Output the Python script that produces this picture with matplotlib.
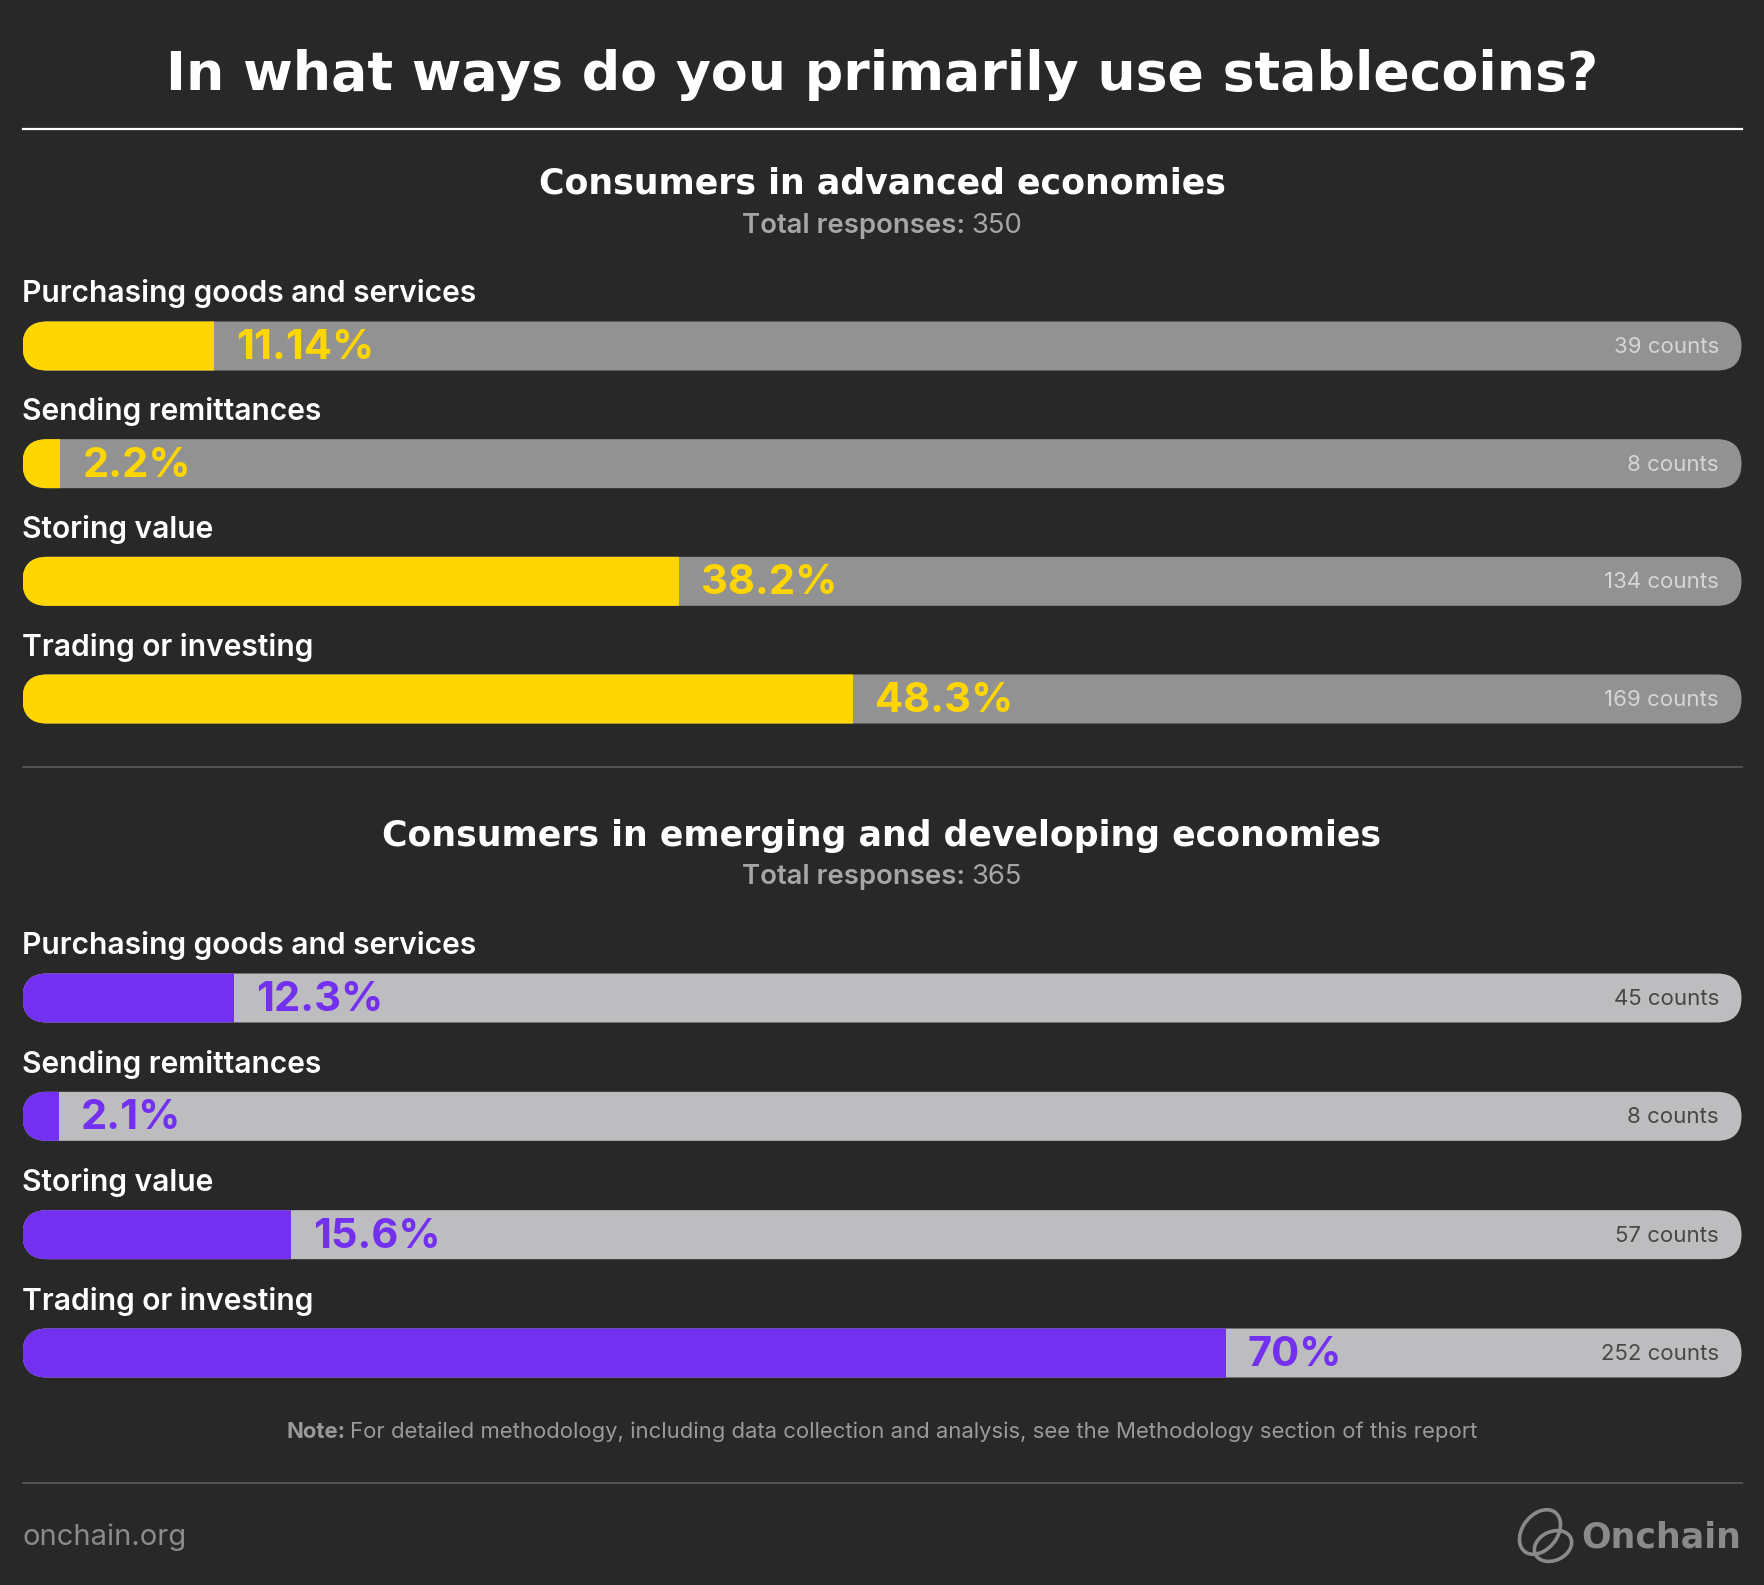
import matplotlib
matplotlib.use("Agg")
import matplotlib.pyplot as plt
from matplotlib.patches import FancyBboxPatch, Rectangle, Ellipse
from matplotlib.lines import Line2D

W, H = 1764, 1585
BG = "#282828"
FONT = ["Inter", "DejaVu Sans"]
TITLE_FONT = ["DejaVu Sans"]

categories = ["Purchasing goods and services", "Sending remittances",
              "Storing value", "Trading or investing"]
adv_pct = [11.14, 2.2, 38.2, 48.3]
adv_counts = [39, 8, 134, 169]
adv_total = 350
emg_pct = [12.3, 2.1, 15.6, 70]
emg_counts = [45, 8, 57, 252]
emg_total = 365

plt.rcParams["font.family"] = FONT
fig = plt.figure(figsize=(W / 100, H / 100), dpi=100, facecolor=BG)


def fx(x):
    return x / W


def fy(y):
    return 1 - y / H


def hline(y, x0, x1, color, lw):
    fig.add_artist(Line2D([fx(x0), fx(x1)], [fy(y), fy(y)], color=color, lw=lw,
                          transform=fig.transFigure))


def rich_center(x, y, parts, size, color):
    """Centered line made of (text, weight) pieces."""
    r = fig.canvas.get_renderer()
    texts, widths = [], []
    for s, wt in parts:
        t = fig.text(0, fy(y), s, fontsize=size, color=color, weight=wt,
                     va="center", ha="left")
        texts.append(t)
        widths.append(t.get_window_extent(r).width)
    space = size * 0.28
    total = sum(widths) + space * (len(parts) - 1)
    cur = x - total / 2
    for t, w in zip(texts, widths):
        t.set_x(fx(cur))
        cur += w + space


def section(top_c, bot_c, pct, counts, fill_col, track_col, cnt_col):
    n = len(categories)
    sp = (bot_c - top_c) / (n - 1)
    y0, y1 = top_c - sp / 2, bot_c + sp / 2
    x0, x1 = 22.5, 1741.5
    ax = fig.add_axes([fx(x0), fy(y1), (x1 - x0) / W, (y1 - y0) / H])
    ax.set_xlim(0, 100)
    ax.set_ylim(n - 0.5, -0.5)
    ax.axis("off")
    pxu = (x1 - x0) / 100
    h = 49 / sp
    r = 24.4 / pxu
    asp = pxu / sp
    for i, (cat, v, c) in enumerate(zip(categories, pct, counts)):
        track = FancyBboxPatch((0, i - h / 2), 100, h,
                               boxstyle=f"round,pad=0,rounding_size={r}",
                               mutation_aspect=asp, fc=track_col, ec="none")
        ax.add_patch(track)
        fill = FancyBboxPatch((0, i - h / 2), 100, h,
                              boxstyle=f"round,pad=0,rounding_size={r}",
                              mutation_aspect=asp, fc=fill_col, ec="none")
        ax.add_patch(fill)
        fill.set_clip_path(Rectangle((0, i - h), v, 2 * h, transform=ax.transData))
        ax.text(0, i - 52 / sp, cat, fontsize=21.6, weight="semibold", color="white",
                va="center", ha="left")
        ax.text(v + 22 / pxu, i + 2 / sp, f"{v:g}%", fontsize=30, weight="bold",
                color=fill_col, va="center", ha="left")
        ax.text(100 - 22.5 / pxu, i + 1 / sp, f"{c} counts", fontsize=16,
                color=cnt_col, va="center", ha="right")
    return ax


# title
fig.text(0.5, fy(75), "In what ways do you primarily use stablecoins?",
         fontsize=38.7, weight="bold", color="white", ha="center", va="center",
         family=TITLE_FONT)
hline(129, 22.5, 1741.5, "white", 1.6)

# section 1
fig.text(0.5, fy(183), "Consumers in advanced economies", fontsize=25,
         weight="bold", color="white", ha="center", va="center", family=TITLE_FONT)
rich_center(W / 2, 226, [("Total responses:", "semibold"), (str(adv_total), "normal")],
            19.8, "#A6A6A6")
section(346, 699, adv_pct, adv_counts, "#FFD600", "#929292", "#D6D6D6")

hline(767, 22.5, 1741.5, "#5A5A5A", 1.2)

# section 2
fig.text(0.5, fy(836), "Consumers in emerging and developing economies", fontsize=25,
         weight="bold", color="white", ha="center", va="center", family=TITLE_FONT)
rich_center(W / 2, 877, [("Total responses:", "semibold"), (str(emg_total), "normal")],
            19.8, "#A6A6A6")
section(998, 1353, emg_pct, emg_counts, "#7330F0", "#BDBDBF", "#474747")

# note and footer
rich_center(W / 2, 1432, [("Note:", "bold"),
                          ("For detailed methodology, including data collection and "
                           "analysis, see the Methodology section of this report", "normal")],
            15.9, "#9A9A9A")
hline(1483, 22.5, 1741.5, "#5A5A5A", 1.2)
fig.text(fx(22.5), fy(1537), "onchain.org", fontsize=21, color="#8A8A8A",
         ha="left", va="center")
fig.text(fx(1741.5), fy(1537), "Onchain", fontsize=25, weight="bold", color="#8A8A8A",
         ha="right", va="center", family=TITLE_FONT)
fig.add_artist(Ellipse((fx(1540), fy(1532)), 36 / W, 48 / H, angle=-30, fill=False,
                       ec="#8A8A8A", lw=2.6, transform=fig.transFigure))
fig.add_artist(Ellipse((fx(1553), fy(1546)), 40 / W, 28 / H, angle=35, fill=False,
                       ec="#8A8A8A", lw=2.6, transform=fig.transFigure))

fig.savefig("out.png", dpi=100, facecolor=BG)
